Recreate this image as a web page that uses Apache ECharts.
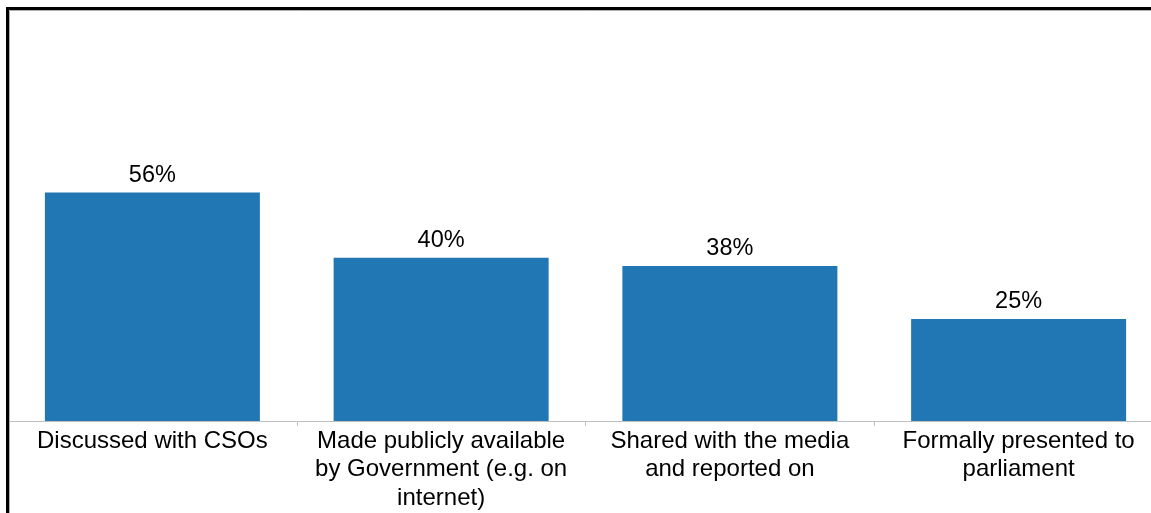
<!DOCTYPE html>
<html>
<head>
<meta charset="utf-8">
<script src="https://cdn.jsdelivr.net/npm/echarts@6/dist/echarts.min.js"></script>
<style>
  html, body { margin: 0; padding: 0; background: #fff; overflow: hidden; }
  /* canvas is a bit wider than the window so the last category runs off the right edge */
  #chart { width: 1170px; height: 513px; }
</style>
</head>
<body>
<div id="chart"></div>
<script>
// Share of respondents reporting each way the findings were used
const categories = [
  'Discussed with CSOs',
  'Made publicly available\nby Government (e.g. on\ninternet)',
  'Shared with the media\nand reported on',
  'Formally presented to\nparliament'
];
const shares = [56, 40, 38, 25];

const chart = echarts.init(document.getElementById('chart'), null, { renderer: 'canvas' });
const font = '"Liberation Sans", Arial, sans-serif';

chart.setOption({
  animation: false,
  backgroundColor: '#ffffff',
  grid: { left: 8, width: 1155, top: 13, height: 408, containLabel: false, outerBoundsMode: 'none' },
  xAxis: {
    type: 'category',
    data: categories,
    axisLine: { show: true, lineStyle: { color: '#bfbfbf', width: 1 } },
    axisTick: { show: true, alignWithLabel: false, length: 5, lineStyle: { color: '#bfbfbf' } },
    axisLabel: {
      interval: 0,
      margin: 6,
      fontFamily: font,
      fontSize: 24,
      lineHeight: 28.5,
      color: '#000',
      align: 'center'
    }
  },
  yAxis: {
    type: 'value',
    min: 0,
    max: 100,
    show: false,
    splitLine: { show: false }
  },
  series: [{
    type: 'bar',
    data: shares,
    barWidth: 215,
    itemStyle: { color: '#2077b4' },
    label: {
      show: true,
      position: 'top',
      distance: 5,
      formatter: '{c}%',
      fontFamily: font,
      fontSize: 23.5,
      color: '#000'
    }
  }],
  graphic: [
    // outer frame along left and top edges
    { type: 'polyline', silent: true, z: 100,
      shape: { points: [[7.5, 513], [7.5, 8.5], [1170, 8.5]] },
      style: { stroke: '#000', lineWidth: 3, fill: null } },
    { type: 'polyline', silent: true, z: 100,
      shape: { points: [[9.5, 513], [9.5, 10.5], [1170, 10.5]] },
      style: { stroke: '#b0b0b0', lineWidth: 1, fill: null } }
  ]
});
</script>
</body>
</html>
